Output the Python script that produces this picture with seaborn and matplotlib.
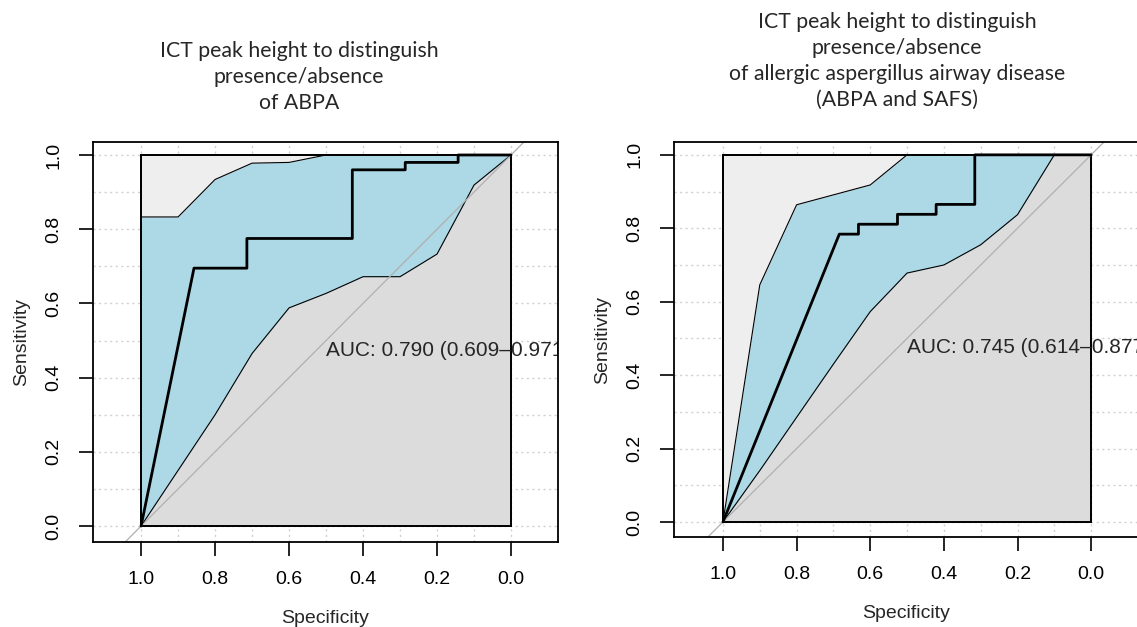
import numpy as np
import pandas as pd
import matplotlib
matplotlib.use("Agg")
import matplotlib.pyplot as plt
from matplotlib.patches import Rectangle
import seaborn as sns

# ROC curve vertices (specificity, sensitivity) for each test
abpa_spec = [1.0, 0.857, 0.714, 0.714, 0.429, 0.429, 0.286, 0.286, 0.143, 0.143, 0.0]
abpa_sens = [0.0, 0.695, 0.695, 0.775, 0.775, 0.960, 0.960, 0.980, 0.980, 1.0, 1.0]

aad_spec = [1.0, 0.684, 0.632, 0.632, 0.526, 0.526, 0.421, 0.421, 0.316, 0.316, 0.0]
aad_sens = [0.0, 0.784, 0.784, 0.811, 0.811, 0.838, 0.838, 0.865, 0.865, 1.0, 1.0]

# bootstrap CI of sensitivity on a specificity grid
ci_spec = [1.0, 0.9, 0.8, 0.7, 0.6, 0.5, 0.4, 0.3, 0.2, 0.1, 0.0]
abpa_ci_low = [0.0, 0.15, 0.30, 0.465, 0.588, 0.627, 0.672, 0.672, 0.733, 0.919, 1.0]
abpa_ci_high = [0.833, 0.833, 0.934, 0.978, 0.980, 1.0, 1.0, 1.0, 1.0, 1.0, 1.0]
aad_ci_low = [0.0, 0.14, 0.285, 0.43, 0.573, 0.678, 0.70, 0.755, 0.837, 1.0, 1.0]
aad_ci_high = [0.0, 0.646, 0.864, 0.891, 0.918, 1.0, 1.0, 1.0, 1.0, 1.0, 1.0]

abpa_auc = "AUC: 0.790 (0.609\u20130.971)"
aad_auc = "AUC: 0.745 (0.614\u20130.877)"

abpa_title = "ICT peak height to distinguish\npresence/absence\nof ABPA"
aad_title = ("ICT peak height to distinguish\npresence/absence\n"
             "of allergic aspergillus airway disease\n(ABPA and SAFS)")

axis_ticks = [1.0, 0.8, 0.6, 0.4, 0.2, 0.0]
grid_ticks = np.round(np.arange(0, 1.01, 0.1), 1)

sns.set_theme(style="white")
plt.rcParams['font.family'] = ['Liberation Sans', 'DejaVu Sans']

BLUE = "#ADD8E6"
LIGHT = "#EEEEEE"
DARK = "#DCDCDC"


def draw_roc(ax, spec, sens, lo, hi, auc_text):
    ax.set_facecolor("white")
    # dotted grid across the whole frame
    for g in grid_ticks:
        ax.axvline(g, color="#D0D0D0", lw=1, ls=(0, (1.5, 2.5)), zorder=0.5)
        ax.axhline(g, color="#D0D0D0", lw=1, ls=(0, (1.5, 2.5)), zorder=0.5)

    # maximal AUC square
    ax.add_patch(Rectangle((0, 0), 1, 1, facecolor=LIGHT, edgecolor="black",
                           lw=1.4, zorder=1))
    # area under ROC curve
    ax.fill_between(spec, sens, 0, color=DARK, lw=0, zorder=1.1)
    # CI band
    ax.fill_between(ci_spec, lo, hi, color=BLUE, lw=0, zorder=1.2)
    ax.plot(ci_spec, lo, color="black", lw=0.8, zorder=1.3)
    ax.plot(ci_spec, hi, color="black", lw=0.8, zorder=1.3)
    ax.add_patch(Rectangle((0, 0), 1, 1, facecolor="none", edgecolor="black",
                           lw=1.4, zorder=1.35))
    # identity line
    ax.axline((1, 0), (0, 1), color="#B0B0B0", lw=0.9, zorder=1.4)

    df = pd.DataFrame({"Specificity": spec, "Sensitivity": sens})
    sns.lineplot(data=df, x="Specificity", y="Sensitivity", sort=False,
                 estimator=None, color="black", lw=2, ax=ax, zorder=1.5)

    # AUC label is clipped by the plot frame, as in the source figure
    ax.text(0.5, 0.5, auc_text, ha="left", va="top", fontsize=15,
            clip_on=True, zorder=2)

    ax.set_xticks(axis_ticks)
    ax.set_xticklabels([f"{t:.1f}" for t in axis_ticks])
    ax.set_yticks(axis_ticks)
    ax.set_yticklabels([f"{t:.1f}" for t in axis_ticks], rotation=90, va="center")
    ax.tick_params(axis="both", direction="out", length=10, width=1.2,
                   labelsize=14, colors="black", bottom=True, left=True)
    ax.tick_params(axis="x", pad=11)
    ax.tick_params(axis="y", pad=12)
    ax.set_xlabel("Specificity", fontsize=14, labelpad=16)
    ax.set_ylabel("Sensitivity", fontsize=14, labelpad=11)
    for s in ax.spines.values():
        s.set_visible(True)
        s.set_color("black")
        s.set_linewidth(1.3)


fig = plt.figure(figsize=(11.37, 6.27), dpi=100)
W, H = 1137, 627

ax1 = fig.add_axes([93 / W, (H - 542) / H, 465 / W, 400 / H])
draw_roc(ax1, abpa_spec, abpa_sens, abpa_ci_low, abpa_ci_high, abpa_auc)
ax1.set_xlim(1.13, -0.127)
ax1.set_ylim(-0.043, 1.035)

ax2 = fig.add_axes([674 / W, (H - 537) / H, 465 / W, 395 / H])
draw_roc(ax2, aad_spec, aad_sens, aad_ci_low, aad_ci_high, aad_auc)
ax2.set_xlim(1.133, -0.13)
ax2.set_ylim(-0.041, 1.035)

fig.text(299 / W, 1 - 77 / H, abpa_title, ha="center", va="center",
         fontsize=15.3, family=["Lato", "DejaVu Sans"], linespacing=1.38)
fig.text(897 / W, 1 - 61 / H, aad_title, ha="center", va="center",
         fontsize=15.3, family=["Lato", "DejaVu Sans"], linespacing=1.38)

fig.savefig("out.png", dpi=100)
plt.close(fig)
